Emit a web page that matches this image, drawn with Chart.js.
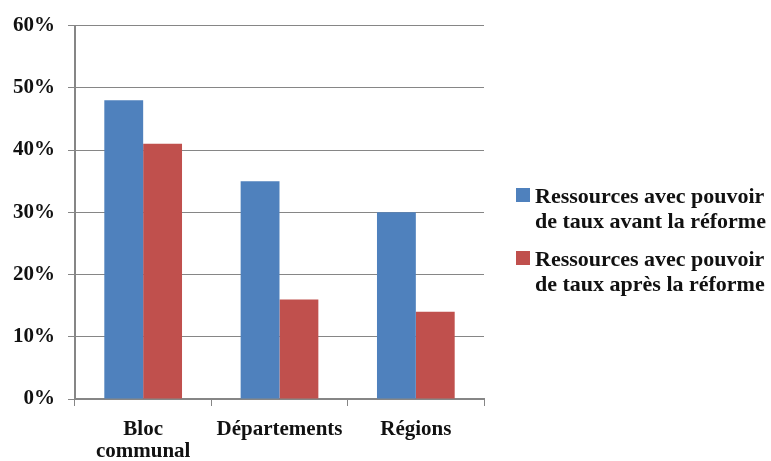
<!DOCTYPE html>
<html>
<head>
<meta charset="utf-8">
<script src="https://cdn.jsdelivr.net/npm/chart.js@4/dist/chart.umd.min.js"></script>
<style>
  html, body { margin: 0; padding: 0; background: #fff; }
  #wrap { position: relative; width: 771px; height: 461px; }
  #legend { position: absolute; left: 516px; top: 183px; font-family: "Liberation Serif", serif; font-weight: bold; font-size: 22px; color: #111; }
  .item { position: relative; padding-left: 19px; line-height: 25px; margin-bottom: 13px; }
  .sw { position: absolute; left: 0; top: 5px; width: 14px; height: 14px; }
</style>
</head>
<body>
<div id="wrap">
  <canvas id="c" width="771" height="461"></canvas>
  <div id="legend"></div>
</div>
<script>
const categories = [["Bloc", "communal"], "Départements", "Régions"];
const seriesNames = [["Ressources avec pouvoir", "de taux avant la réforme"], ["Ressources avec pouvoir", "de taux après la réforme"]];
const avantValues = [48, 35, 30];
const apresValues = [41, 16, 14];
const yTicks = [0, 10, 20, 30, 40, 50, 60];
const colors = ["#4F81BD", "#C0504D"];

const fontFam = '"Liberation Serif", serif';
const chart = new Chart(document.getElementById('c'), {
  type: 'bar',
  data: {
    labels: categories,
    datasets: [
      { label: seriesNames[0].join(' '), data: avantValues, backgroundColor: colors[0] },
      { label: seriesNames[1].join(' '), data: apresValues, backgroundColor: colors[1] }
    ]
  },
  options: {
    responsive: false,
    animation: false,
    layout: { padding: { top: 13, right: 287, left: 0, bottom: 0 } },
    plugins: { legend: { display: false }, tooltip: { enabled: false } },
    datasets: { bar: { categoryPercentage: 0.57, barPercentage: 1.0 } },
    scales: {
      x: {
        grid: { display: true, drawOnChartArea: false, offset: true, tickLength: 7, color: '#868686', lineWidth: 1 },
        border: { color: '#868686', width: 2 },
        ticks: { color: '#111', font: { family: fontFam, weight: 'bold', size: 21, lineHeight: 1.05 }, padding: 13, maxRotation: 0 },
        afterFit: s => { s.height = 62; }
      },
      y: {
        min: 0, max: 60,
        afterBuildTicks: s => { s.ticks = yTicks.map(v => ({ value: v })); },
        grid: { color: '#868686', lineWidth: 1, tickLength: 7 },
        border: { color: '#868686', width: 2 },
        ticks: { color: '#111', font: { family: fontFam, weight: 'bold', size: 21 }, padding: 13, callback: v => v + '%' },
        afterFit: s => { s.width = 75; }
      }
    }
  }
});

const leg = document.getElementById('legend');
chart.data.datasets.forEach((ds, i) => {
  const d = document.createElement('div');
  d.className = 'item';
  const sw = document.createElement('span');
  sw.className = 'sw';
  sw.style.background = ds.backgroundColor;
  d.appendChild(sw);
  seriesNames[i].forEach((line, j) => {
    const t = document.createElement('div');
    t.textContent = line;
    d.appendChild(t);
  });
  leg.appendChild(d);
});
</script>
</body>
</html>
